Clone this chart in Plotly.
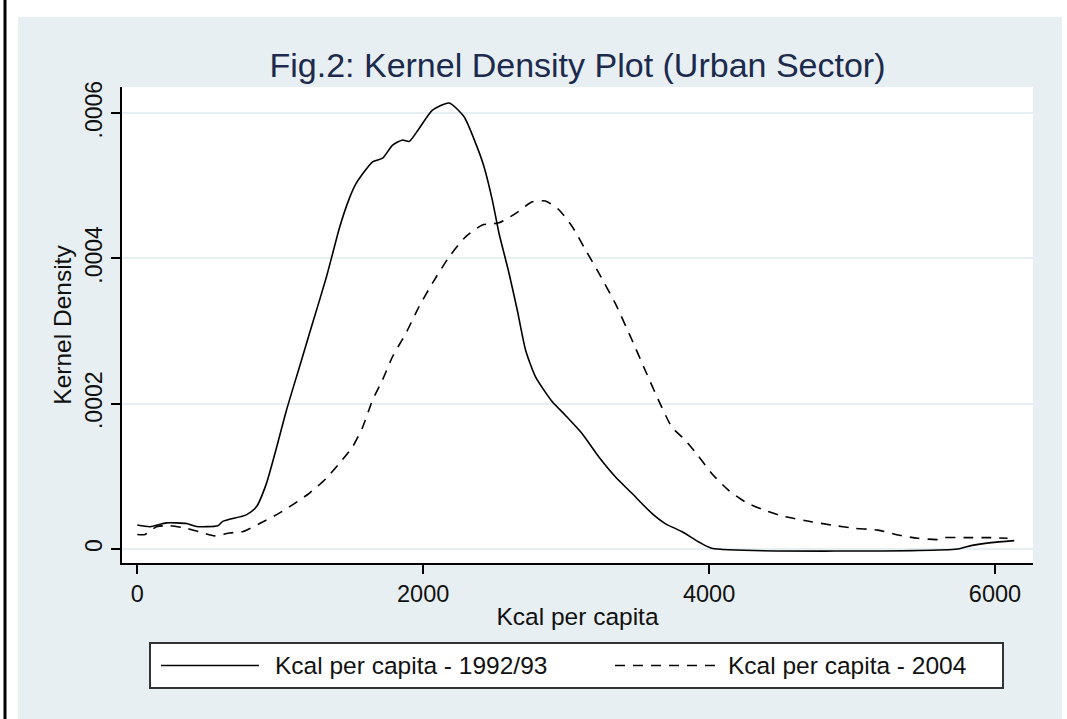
import plotly.graph_objects as go

# ---- data ----
kcal_1992 = [0, 89, 205, 345, 414, 563, 598, 763, 833, 903, 972, 1042, 1135, 1228, 1321, 1367,
             1414, 1484, 1530, 1646, 1716, 1786, 1856, 1902, 1972, 2065, 2181, 2286, 2368, 2426,
             2484, 2530, 2600, 2658, 2716, 2786, 2902, 2995, 3111, 3228, 3344, 3460, 3600, 3693,
             3809, 3925, 4018, 5739, 5832, 5972, 6135]
dens_1992_e5 = [3.3, 3.07, 3.6, 3.5, 3.1, 3.2, 3.8, 4.7, 5.8, 9.0, 13.8, 19.0, 25.1, 31.2, 37.3, 40.7,
                44.2, 48.3, 50.3, 53.3, 53.8, 55.6, 56.3, 56.1, 57.9, 60.4, 61.4, 59.5, 55.8, 52.6,
                48.0, 43.5, 38.0, 32.9, 27.4, 23.7, 20.3, 18.4, 15.9, 12.7, 9.95, 7.67, 4.9, 3.5,
                2.4, 1.0, 0.1, 0.0, 0.46, 0.87, 1.15]

kcal_2004 = [0, 54, 135, 228, 345, 460, 542, 647, 740, 856, 972, 1088, 1205, 1321, 1414, 1507,
             1577, 1646, 1716, 1786, 1879, 1972, 2065, 2181, 2298, 2414, 2530, 2647, 2763, 2856,
             2949, 3042, 3135, 3228, 3344, 3460, 3553, 3646, 3739, 3832, 3925, 4018, 4135, 4251,
             4391, 4530, 4716, 4855, 5018, 5181, 5321, 5460, 5600, 5646, 5786, 5972, 6088]
dens_2004_e5 = [2.0, 2.0, 3.07, 3.2, 2.85, 2.2, 1.8, 2.2, 2.4, 3.5, 4.7, 6.1, 7.7, 9.7, 11.8, 14.1,
                16.8, 20.5, 23.3, 26.5, 29.7, 33.4, 36.6, 40.2, 43.0, 44.6, 44.9, 46.2, 47.8, 47.9,
                46.7, 44.4, 41.2, 38.0, 33.8, 28.8, 24.6, 20.5, 16.8, 15.0, 12.8, 10.4, 8.1, 6.5,
                5.3, 4.45, 3.76, 3.3, 2.85, 2.6, 1.93, 1.47, 1.3, 1.56, 1.56, 1.56, 1.47]

series_names = ["Kcal per capita - 1992/93", "Kcal per capita - 2004"]
x_ticks = [0, 2000, 4000, 6000]
y_ticks = [0, 0.0002, 0.0004, 0.0006]
y_tick_labels = ["0", ".0002", ".0004", ".0006"]
title_text = "Fig.2: Kernel Density Plot (Urban Sector)"
x_title = "Kcal per capita"
y_title = "Kernel Density"

dens_1992 = [v * 1e-5 for v in dens_1992_e5]
dens_2004 = [v * 1e-5 for v in dens_2004_e5]

# ---- layout geometry (pixels) ----
W, H = 1067, 719
L, R, T, B = 122, 1033, 87, 563
PW, PH = R - L, B - T


def px(x):
    return (x - L) / PW


def py(y):
    return (B - y) / PH


FONT = "Liberation Sans, Arial, sans-serif"
TXT = "#111111"
BG = "#e8eff2"
DASH = "10px,8px"

fig = go.Figure()
fig.add_trace(go.Scatter(x=kcal_1992, y=dens_1992, mode="lines", name=series_names[0],
                         line=dict(color="black", width=1.6, shape="spline", smoothing=0.6),
                         showlegend=False))
fig.add_trace(go.Scatter(x=kcal_2004, y=dens_2004, mode="lines", name=series_names[1],
                         line=dict(color="black", width=1.6, dash=DASH, shape="spline", smoothing=0.6),
                         showlegend=False))

shapes = [
    # outer graph region background
    dict(type="rect", xref="paper", yref="paper", x0=px(18), x1=px(1062), y0=py(719), y1=py(17),
         fillcolor=BG, line=dict(width=0), layer="below"),
    # plot region
    dict(type="rect", xref="paper", yref="paper", x0=0, x1=1, y0=0, y1=1,
         fillcolor="white", line=dict(width=0), layer="below"),
    # black left border
    dict(type="line", xref="paper", yref="paper", x0=px(5), x1=px(5), y0=py(719), y1=py(0),
         line=dict(color="black", width=3), layer="above"),
    # legend box
    dict(type="rect", xref="paper", yref="paper", x0=px(150), x1=px(1003), y0=py(688), y1=py(643),
         fillcolor="white", line=dict(color="#333333", width=2), layer="above"),
    # legend samples
    dict(type="line", xref="paper", yref="paper", x0=px(161), x1=px(259), y0=py(665.5), y1=py(665.5),
         line=dict(color="black", width=1.6), layer="above"),
    dict(type="line", xref="paper", yref="paper", x0=px(615), x1=px(715), y0=py(665.5), y1=py(665.5),
         line=dict(color="black", width=1.6, dash=DASH), layer="above"),
]

annotations = [
    dict(text=series_names[0], xref="paper", yref="paper", x=px(273), y=py(665),
         xanchor="left", yanchor="middle", showarrow=False, font=dict(family=FONT, size=24.5, color=TXT)),
    dict(text=series_names[1], xref="paper", yref="paper", x=px(726), y=py(665),
         xanchor="left", yanchor="middle", showarrow=False, font=dict(family=FONT, size=24.5, color=TXT)),
]

fig.update_layout(
    width=W, height=H,
    margin=dict(l=L, r=W - R, t=T, b=H - B, pad=0),
    paper_bgcolor="white", plot_bgcolor="white",
    font=dict(family=FONT, size=24, color=TXT),
    title=dict(text=title_text, xref="container", x=577.5 / W, xanchor="center",
               y=1 - 65 / H, yanchor="middle",
               font=dict(family=FONT, size=34, color="#1b2a4d")),
    shapes=shapes, annotations=annotations,
    showlegend=False,
)

fig.update_xaxes(range=[-107, 6266], tickvals=x_ticks, ticks="outside", ticklen=9, tickwidth=1.5,
                 tickcolor="black", showline=True, linecolor="black", linewidth=1.5,
                 showgrid=False, zeroline=False,
                 title=dict(text=x_title, standoff=2, font=dict(family=FONT, size=24.5, color=TXT)),
                 tickfont=dict(family=FONT, size=23.5, color=TXT))
fig.update_yaxes(range=[-1.93e-5, 6.36e-4], tickvals=y_ticks, ticktext=y_tick_labels, tickangle=-90,
                 ticks="outside", ticklen=9, tickwidth=1.5, tickcolor="black",
                 showline=True, linecolor="black", linewidth=1.5,
                 showgrid=True, gridcolor="#e6eff2", gridwidth=1.5, zeroline=False,
                 title=dict(text=y_title, standoff=2, font=dict(family=FONT, size=24.5, color=TXT)),
                 tickfont=dict(family=FONT, size=23, color=TXT))

fig.write_html(
    "out.html",
    config={"displayModeBar": False},
    post_script="document.body.style.margin='0px'; document.body.style.overflow='hidden';",
)
